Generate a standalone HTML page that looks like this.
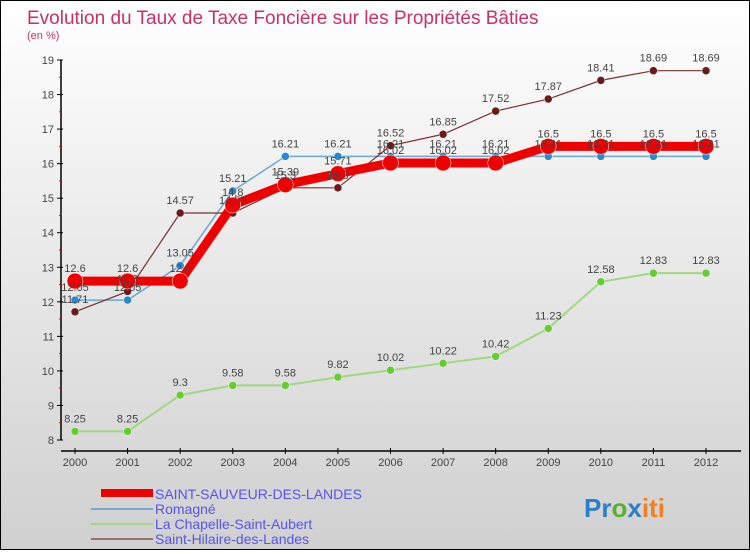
<!DOCTYPE html>
<html><head><meta charset="utf-8"><style>
body{margin:0;width:750px;height:550px;overflow:hidden;font-family:"Liberation Sans",sans-serif}
#wrap{position:relative;width:748px;height:548px;border:1px solid #000;background:linear-gradient(#fff,#d0d0d0)}
svg text{font-family:"Liberation Sans",sans-serif}
</style></head><body>
<div id="wrap">
<svg id="chart" width="748" height="548">
<text x="26" y="23" font-size="19" fill="#c8306a">Evolution du Taux de Taxe Foncière sur les Propriétés Bâties</text>
<text x="26" y="38" font-size="11" fill="#c8306a">(en %)</text>
<g id="axes"></g><g id="series"></g><g id="labels"></g>
<g>
<rect x="100" y="488" width="52" height="8" fill="#e00"/>
<text x="154" y="498" font-size="14" fill="#5555ee">SAINT-SAUVEUR-DES-LANDES</text>
<rect x="90" y="507" width="62" height="2" fill="#7aa8cc"/>
<text x="154" y="513" font-size="14" fill="#5555ee">Romagné</text>
<rect x="90" y="522" width="62" height="2" fill="#a0d880"/>
<text x="154" y="528" font-size="14" fill="#5555ee">La Chapelle-Saint-Aubert</text>
<rect x="90" y="537" width="62" height="2" fill="#9a7070"/>
<text x="154" y="543" font-size="14" fill="#5555ee">Saint-Hilaire-des-Landes</text>
</g>
<text x="583" y="516" font-size="26" font-weight="bold"><tspan fill="#2a7fc8">Pr</tspan><tspan fill="#5cb030">o</tspan><tspan fill="#2a7fc8">x</tspan><tspan fill="#f08020">iti</tspan></text>
</svg></div>
<script>
const years=[2000,2001,2002,2003,2004,2005,2006,2007,2008,2009,2010,2011,2012];
const yTicks=[8,9,10,11,12,13,14,15,16,17,18,19];
const saintSauveur=[12.6,12.6,12.6,14.8,15.39,15.71,16.02,16.02,16.02,16.5,16.5,16.5,16.5];
const romagne=[12.05,12.05,13.05,15.21,16.21,16.21,16.21,16.21,16.21,16.21,16.21,16.21,16.21];
const laChapelle=[8.25,8.25,9.3,9.58,9.58,9.82,10.02,10.22,10.42,11.23,12.58,12.83,12.83];
const saintHilaire=[11.71,12.3,14.57,14.57,15.3,15.3,16.52,16.85,17.52,17.87,18.41,18.69,18.69];
const NS="http://www.w3.org/2000/svg";
const xS=i=>74+i*(705-74)/(years.length-1);
const yS=v=>439-(v-8)*(439-59)/11;
function mk(t,a,p){const e=document.createElementNS(NS,t);for(const k in a)e.setAttribute(k,a[k]);p.appendChild(e);return e;}
const ax=document.getElementById('axes'),se=document.getElementById('series'),lb=document.getElementById('labels');
const yl=mk('line',{x1:60,y1:yS(19),x2:60,y2:yS(8),stroke:'#000','stroke-width':1.5},ax);


const xl=mk('line',{x1:60,y1:450,x2:740,y2:450,stroke:'#000','stroke-width':1.5},ax);


yTicks.forEach(v=>{
 mk('line',{x1:56,x2:62,y1:yS(v),y2:yS(v),stroke:'#000'},ax);
 if(v<19)mk('line',{x1:58,x2:61,y1:yS(v+0.5),y2:yS(v+0.5),stroke:'#e00'},ax);
 const t=mk('text',{x:53,y:yS(v)+4,'font-size':11,fill:'#444','text-anchor':'end'},ax);t.textContent=v;
 
 
});
years.forEach((y,i)=>{
 mk('line',{x1:xS(i),x2:xS(i),y1:447,y2:453,stroke:'#000'},ax);
 const t=mk('text',{x:xS(i),y:465,'font-size':11,fill:'#444','text-anchor':'middle'},ax);t.textContent=y;
 
 
});
function series(data,color,w,r,dot,name){
 const g=mk('g',{},se);
 
 
 mk('polyline',{points:data.map((v,i)=>xS(i)+','+yS(v)).join(' '),fill:'none',stroke:color,'stroke-width':w},g);
 data.forEach((v,i)=>{
  const c=mk('circle',{cx:xS(i),cy:yS(v),r:r,fill:dot,stroke:'#fff','stroke-width':0.5},g);
  
  
  const t=mk('text',{x:xS(i),y:yS(v)-9,'font-size':11,fill:'#444','text-anchor':'middle'},lb);t.textContent=v;
  
  
 });
}
series(laChapelle,'#a0d880',2,4,'#66cc33','series-la-chapelle');
series(romagne,'#6aa8d8',1.5,4,'#2a88cc','series-romagne');
series(saintHilaire,'#7a3030',1.2,4,'#6a1a1a','series-saint-hilaire');
series(saintSauveur,'#ee0000',9,8,'#ee0000','series-saint-sauveur');
</script>
</body></html>
